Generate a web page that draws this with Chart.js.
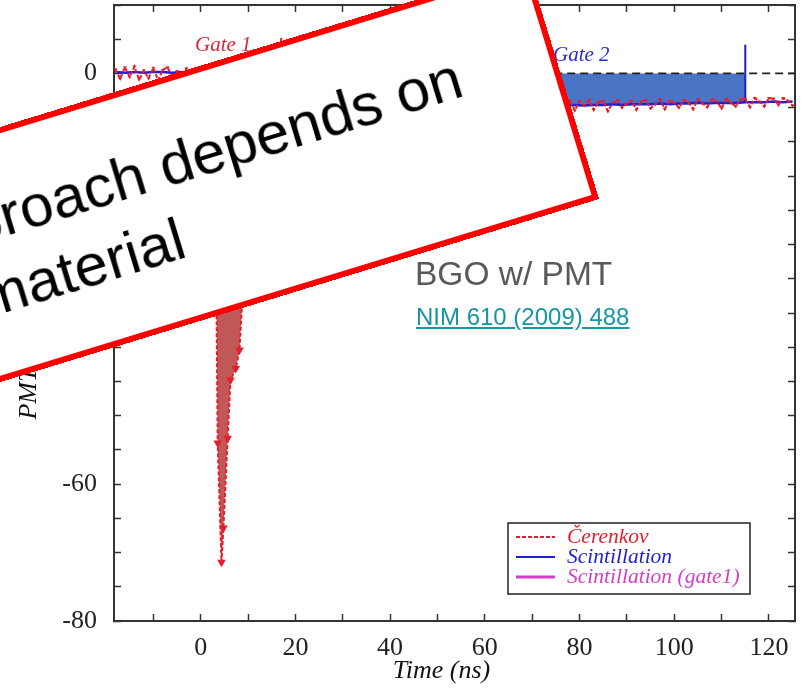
<!DOCTYPE html>
<html>
<head>
<meta charset="utf-8">
<script src="https://cdn.jsdelivr.net/npm/chart.js@4.4.0/dist/chart.umd.min.js"></script>
<style>
  html, body { margin: 0; padding: 0; background: #fff; overflow: hidden; }
  #wrap { position: relative; width: 807px; height: 696px; overflow: hidden; }
  #plot { position: absolute; left: 0; top: 0; }
  #note {
    position: absolute; left: -201px; top: -45px; width: 800px; height: 244px;
    box-sizing: border-box; border: 6px solid #ff0000; background: #fff;
    transform-origin: 100% 100%; transform: rotate(-17deg);
  }
  #note .line {
    position: absolute; white-space: nowrap;
    font: 60px/60px "Liberation Sans", Arial, sans-serif; color: #000;
  }
  #caption {
    position: absolute; left: 415px; top: 257px; white-space: nowrap;
    font: 33.5px/33.5px "Liberation Sans", Arial, sans-serif; color: #595959;
  }
  #ref {
    position: absolute; left: 416px; top: 305px; white-space: nowrap;
    font: 24px/24px "Liberation Sans", Arial, sans-serif; color: #1697a3;
    text-decoration: underline;
  }
</style>
</head>
<body>
<div id="wrap">
  <canvas id="plot" width="807" height="696"></canvas>
  <div id="note">
    <div class="line" style="right:91px; bottom:122px">Approach depends on</div>
    <div class="line" style="right:403px; bottom:49px">material</div>
  </div>
  <div id="caption">BGO w/ PMT</div>
  <div id="ref">NIM 610 (2009) 488</div>
</div>
<script>
// Čerenkov pulse (ns / mV)
const cerTimes = [
  -18, -17, -16, -15, -14, -13, -12, -11, -10, -9, -8, -7, -6, -5, -4, -3, -2, -1, 0, 1, 2,
  3.0, 3.6, 4.4, 4.8, 5.7, 6.3, 7.4, 8.2, 9.0, 10.0,
  11, 12, 13, 14, 15, 16, 17, 18, 19, 20,
  21, 22, 23, 24, 25, 26, 27, 28, 29, 30,
  31, 32, 33, 34, 35, 36, 37, 38, 39, 40,
  41, 42, 43, 44, 45, 46, 47, 48, 49, 50,
  51, 52, 53, 54, 55, 56, 57, 58, 59, 60,
  61, 62, 63, 64, 65, 66, 67, 68, 69, 70,
  71, 72, 73, 74, 75, 76, 77, 78, 79, 80,
  81, 82, 83, 84, 85, 86, 87, 88, 89, 90,
  91, 92, 93, 94, 95, 96, 97, 98, 99, 100,
  101, 102, 103, 104, 105, 106, 107, 108, 109, 110,
  111, 112, 113, 114, 115, 116, 117, 118, 119, 120,
  121, 122, 123, 124, 125
];
const cerValues = [
  0.6, -0.8, 0.9, -0.5, 1.0, -0.9, 0.4, -0.7, 0.8, -1.0, 0.5, 0.9, -0.6, 0.3, -0.9, 0.7, -0.4, 0.8, -0.8, 0.2, -0.5,
  -6.0, -54.0, -71.4, -66.4, -53.3, -44.8, -43.1, -40.4, -30.5, -17.0,
  -10.2, -6.6, -5.3, -4.9, -4.6, -5.1, -4.4, -4.8, -4.3, -5.0,
  -4.5, -4.1, -4.9, -4.4, -5.2, -4.2, -4.7, -4.0, -4.8, -4.5,
  -4.3, -5.0, -4.4, -4.1, -4.9, -4.6, -4.2, -5.1, -4.3, -4.7,
  -4.0, -4.8, -4.4, -4.6, -4.1, -5.0, -4.3, -4.5, -4.9, -4.2,
  -4.6, -4.0, -4.7, -4.4, -5.1, -4.2, -4.5, -4.1, -4.8, -4.3,
  -4.4, -4.9, -4.1, -4.6, -4.2, -5.0, -4.3, -4.0, -4.7, -4.4,
  -4.2, -4.8, -4.0, -4.5, -4.9, -4.1, -4.6, -4.0, -5.4, -4.1,
  -4.7, -3.9, -5.3, -4.2, -4.0, -5.5, -4.3, -3.9, -5.0, -4.4,
  -4.0, -5.3, -4.1, -3.9, -5.1, -4.5, -3.8, -5.2, -4.0, -4.3,
  -5.0, -3.9, -4.2, -5.2, -3.8, -4.4, -4.9, -3.8, -4.1, -5.1,
  -3.7, -4.3, -4.8, -3.8, -3.7, -4.9, -3.6, -4.1, -4.8, -3.6,
  -3.7, -4.6, -3.6, -4.0, -4.7
];

// scintillation signal
const sciTimes = [
  -18, -16, -14, -12, -10, -8, -6, -4, -2, 0, 2,
  3, 4, 5, 6, 7, 8, 9, 10,
  11, 13, 15, 17, 19, 21, 23, 25, 27, 29,
  31, 33, 35, 37, 39, 41, 43, 45, 47, 49,
  51, 53, 55, 57, 59, 61, 63, 65, 67, 69,
  71, 73, 75, 77, 79, 81, 83, 85, 87, 89,
  91, 93, 95, 97, 99, 101, 103, 105, 107, 109,
  111, 113, 115, 117, 119, 121, 123, 125
];
const sciValues = [
  0.2, 0.1, 0.2, 0.1, 0.2, 0.2, 0.1, 0.2, 0.1, 0.2, 0.1,
  -2.0, -9.5, -16.0, -17.5, -16.0, -14.0, -12.0, -10.5,
  -9.6, -8.2, -7.2, -6.5, -6.1, -5.9, -5.8, -5.6, -5.6, -5.5,
  -5.4, -5.4, -5.3, -5.3, -5.2, -5.2, -5.1, -5.1, -5.0, -5.0,
  -5.0, -4.9, -4.9, -4.9, -4.9, -4.8, -4.8, -4.8, -4.8, -4.7,
  -4.7, -4.7, -4.7, -4.7, -4.6, -4.7, -4.6, -4.6, -4.5, -4.6,
  -4.5, -4.5, -4.5, -4.4, -4.5, -4.4, -4.4, -4.3, -4.4, -4.3,
  -4.3, -4.3, -4.2, -4.2, -4.2, -4.1, -4.2, -4.1
];

// integration gates
const gate1Range = [3.0, 10.0];
const gate2Range = [17, 115];
const gateEdgeTimes = [17, 115];
const gateEdgeTops = [5.2, 4.2];
const zeroLineRange = [17, 125.5];

const xTicksLabelled = [0, 20, 40, 60, 80, 100, 120];
const yTicksLabelled = [-80, -60, -40, -20, 0];

const RED = '#e41f2b';
const BLUE = '#1e1ed2';
const MAGENTA = '#d23ec8';

const toPoints = (ts, vs) => ts.map((t, i) => ({ x: t, y: vs[i] }));
const cerPts = toPoints(cerTimes, cerValues);
const sciPts = toPoints(sciTimes, sciValues);
const within = ([a, b]) => p => p.x >= a && p.x <= b;
const valueAt = (pts, t) => pts.find(p => p.x === t).y;

const datasets = [
  {
    label: 'Čerenkov', data: cerPts, order: 1,
    borderColor: RED, borderWidth: 2, borderDash: [4, 2],
    pointStyle: 'triangle', pointRotation: 180,
    pointRadius: c => (c.raw && c.raw.y < -20 ? 5 : 2.2),
    pointBackgroundColor: RED, pointBorderWidth: 0
  },
  {
    label: 'Scintillation', data: sciPts, order: 2,
    borderColor: BLUE, borderWidth: 2.5, pointRadius: 0
  },
  {
    label: 'Scintillation (gate1)', data: sciPts.filter(within([3, 17])), order: 3,
    borderColor: MAGENTA, borderWidth: 2, pointRadius: 0
  },
  {
    label: 'gate 1', data: cerPts.filter(within(gate1Range)), order: 6,
    fill: 'origin', backgroundColor: '#c05858', borderWidth: 0, pointRadius: 0
  },
  {
    label: 'gate 2', data: sciPts.filter(within(gate2Range)), order: 7,
    fill: 'origin', backgroundColor: '#4a74c6', borderWidth: 0, pointRadius: 0
  },
  {
    label: 'zero', data: zeroLineRange.map(t => ({ x: t, y: 0 })), order: 5,
    borderColor: '#222', borderWidth: 1.8, borderDash: [8, 5], pointRadius: 0
  },
  {
    label: 'gate 1 end', order: 2, pointRadius: 0, borderColor: RED, borderWidth: 2,
    data: [{ x: gateEdgeTimes[0], y: valueAt(cerPts, gateEdgeTimes[0]) }, { x: gateEdgeTimes[0], y: gateEdgeTops[0] }]
  },
  {
    label: 'gate 2 end', order: 2, pointRadius: 0, borderColor: BLUE, borderWidth: 2,
    data: [{ x: gateEdgeTimes[1], y: valueAt(sciPts, gateEdgeTimes[1]) }, { x: gateEdgeTimes[1], y: gateEdgeTops[1] }]
  }
];

// gate captions and the boxed key in the lower right
const gateLabels = [
  { text: 'Gate 1', t: -1.2, v: 3.3, color: '#d8283c' },
  { text: 'Gate 2', t: 74.4, v: 1.8, color: '#2a2ad0' }
];
const keyPlugin = {
  id: 'keyPlugin',
  afterDraw(chart) {
    const { ctx, scales: { x, y }, chartArea } = chart;
    ctx.save();
    ctx.font = 'italic 21px "Liberation Serif", serif';
    ctx.textBaseline = 'alphabetic';
    gateLabels.forEach(g => {
      ctx.fillStyle = g.color;
      ctx.fillText(g.text, x.getPixelForValue(g.t), y.getPixelForValue(g.v));
    });

    const bx = chartArea.right - 287, by = chartArea.bottom - 98;
    ctx.fillStyle = '#fff';
    ctx.fillRect(bx, by, 242, 71);
    ctx.strokeStyle = '#222';
    ctx.lineWidth = 1.5;
    ctx.strokeRect(bx, by, 242, 71);
    ctx.font = 'italic 21.5px "Liberation Serif", serif';
    chart.data.datasets.slice(0, 3).forEach((ds, i) => {
      const base = by + 20 + i * 20;
      ctx.beginPath();
      ctx.setLineDash(ds.borderDash || []);
      ctx.strokeStyle = ds.borderColor;
      ctx.lineWidth = i === 2 ? 3 : 1.8;
      ctx.moveTo(bx + 8, base - 6);
      ctx.lineTo(bx + 47, base - 6);
      ctx.stroke();
      ctx.setLineDash([]);
      ctx.fillStyle = ds.borderColor;
      ctx.fillText(ds.label, bx + 59, base);
    });
    ctx.restore();
  }
};

const tickFont = { family: '"Liberation Serif", serif', size: 26 };
const titleFont = { family: '"Liberation Serif", serif', size: 26, style: 'italic' };
const frame = { color: '#333', width: 2 };
const inwardTicks = { drawOnChartArea: false, tickLength: -7, tickColor: '#333', tickWidth: 1.5 };

// pin the plot frame: fixed axis thickness, no label overhang padding
const pin = (w, h) => s => {
  if (w !== null) s.width = w;
  if (h !== null) s.height = h;
  s.paddingTop = s.paddingBottom = s.paddingLeft = s.paddingRight = 0;
};

new Chart(document.getElementById('plot'), {
  type: 'line',
  data: { datasets },
  options: {
    responsive: false,
    animation: false,
    layout: { autoPadding: false, padding: { top: 5, right: 12, left: 0, bottom: 0 } },
    plugins: { legend: { display: false }, tooltip: { enabled: false } },
    scales: {
      x: {
        type: 'linear', position: 'bottom', min: -18.3, max: 125.5,
        border: frame, grid: inwardTicks,
        ticks: {
          stepSize: 10, includeBounds: false, autoSkip: false, maxRotation: 0,
          padding: 19, color: '#222', font: tickFont,
          callback: v => (xTicksLabelled.includes(v) ? v : '')
        },
        title: { display: true, text: 'Time (ns)    ', color: '#111', font: titleFont, padding: { top: 0, bottom: 9 } },
        afterFit: pin(null, 75)
      },
      x2: {
        type: 'linear', position: 'top', min: -18.3, max: 125.5,
        border: frame, grid: inwardTicks,
        ticks: { display: false, stepSize: 10, includeBounds: false, autoSkip: false },
        afterFit: pin(null, 0)
      },
      y: {
        type: 'linear', position: 'left', min: -80, max: 10,
        border: frame, grid: inwardTicks,
        ticks: {
          stepSize: 5, autoSkip: false, padding: 24, color: '#222', font: tickFont,
          callback: v => (yTicksLabelled.includes(v) ? v : '')
        },
        title: { display: true, text: 'PMT signal (mV)     ', color: '#111', font: titleFont, padding: { top: 14, bottom: 0 } },
        afterFit: pin(114, null)
      },
      y2: {
        type: 'linear', position: 'right', min: -80, max: 10,
        border: frame, grid: inwardTicks,
        ticks: { display: false, stepSize: 5, autoSkip: false },
        afterFit: pin(0, null)
      }
    }
  },
  plugins: [keyPlugin]
});
</script>
</body>
</html>
